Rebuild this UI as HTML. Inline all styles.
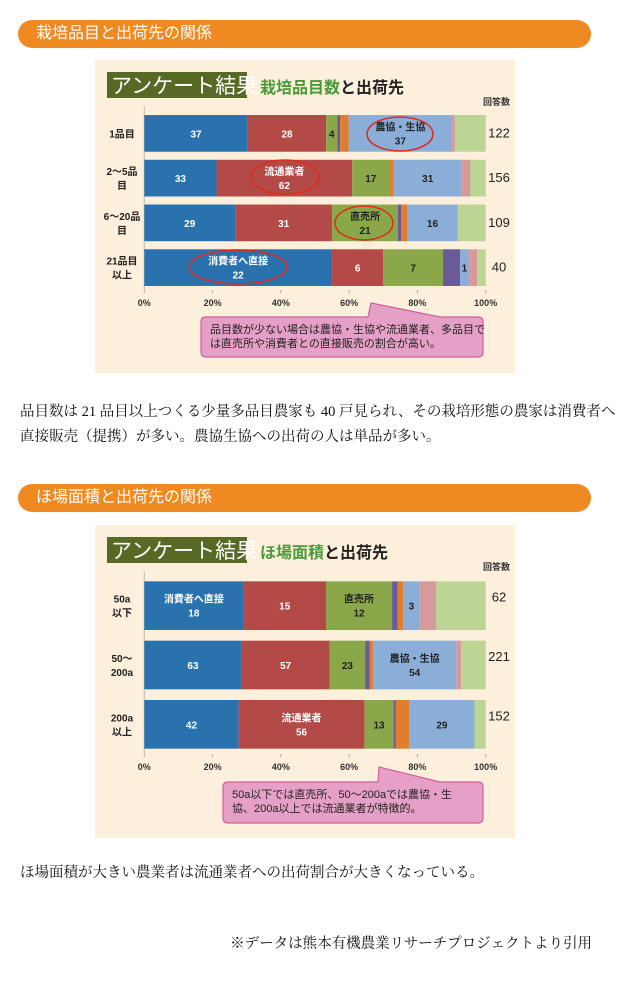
<!DOCTYPE html>
<html><head><meta charset="utf-8">
<style>
html,body{margin:0;padding:0;background:#fff;}
body{width:635px;height:1002px;position:relative;overflow:hidden;font-family:"Liberation Sans","Noto Sans CJK JP",sans-serif;}
.hdr{position:absolute;left:18px;width:573px;height:28px;background:#ef8a22;border-radius:14px;color:#fff;font-size:16px;line-height:28px;padding-left:18px;box-sizing:border-box;}
.txt{position:absolute;left:20px;font-family:"Liberation Serif","Noto Serif CJK JP",serif;font-size:14.5px;color:#111;line-height:25px;}
svg{position:absolute;left:0;top:0;}
</style></head><body>
<div class="hdr" style="top:20px">栽培品目と出荷先の関係</div>
<div class="hdr" style="top:484px">ほ場面積と出荷先の関係</div>
<div class="txt" style="top:400px;width:600px">品目数は 21 品目以上つくる少量多品目農家も 40 戸見られ、その栽培形態の農家は消費者へ直接販売（提携）が多い。農協生協への出荷の人は単品が多い。</div>
<div class="txt" style="top:861px">ほ場面積が大きい農業者は流通業者への出荷割合が大きくなっている。</div>
<div class="txt" style="top:932px;right:43px;left:auto">※データは熊本有機農業リサーチプロジェクトより引用</div>
<svg id="s" width="635" height="1002" xmlns="http://www.w3.org/2000/svg"></svg>
<script>
// Chart 1: crop item count vs shipping destination
const c1Rows=[["1品目"],["2～5品","目"],["6～20品","目"],["21品目","以上"]];
const c1Totals=[122,156,109,40];
const c1Blue=[37,33,29,22];
const c1Red=[28,62,31,6];
const c1Green=[4,17,21,7];
const c1Purple=[1,0,1,2];
const c1Orange=[3,2,2,0];
const c1LightBlue=[37,31,16,1];
const c1Pink=[1,4,0,1];
const c1LightGreen=[11,7,9,1];
const c1Show=[[1,1,1,0,0,1,0,0],[1,1,1,0,0,1,0,0],[1,1,1,0,0,1,0,0],[1,1,1,0,0,1,0,0]];
// Chart 2: field area vs shipping destination
const c2Rows=[["50a","以下"],["50～","200a"],["200a","以上"]];
const c2Totals=[62,221,152];
const c2Blue=[18,63,42];
const c2Red=[15,57,56];
const c2Green=[12,23,13];
const c2Purple=[1,3,1];
const c2Orange=[1,2,6];
const c2LightBlue=[3,54,29];
const c2Pink=[3,3,0];
const c2LightGreen=[9,16,5];
const c2Show=[[1,1,1,0,0,1,0,0],[1,1,1,0,0,1,0,0],[1,1,1,0,0,1,0,0]];
const tickLabels=["0%","20%","40%","60%","80%","100%"];
const colors=["#2a72ae","#b34a47","#8aa84a","#6a5a9a","#e07e2e","#8aaed8","#d69a9c","#bcd494"];
const textCol=["#fff","#fff","#222","#fff","#222","#222","#222","#222"];
const NS="http://www.w3.org/2000/svg";
const S=document.getElementById('s');
function mk(tag,attrs,parent,txt){const e=document.createElementNS(NS,tag);for(const k in attrs)e.setAttribute(k,attrs[k]);if(txt!==undefined)e.textContent=txt;(parent||S).appendChild(e);return e;}
function chart(cfg){
  const g=mk('g',{});
  
  
  const bg=mk('rect',{x:cfg.bx,y:cfg.by,width:420,height:313,fill:'#fcefdb'},g);
  
  
  const tb=mk('rect',{x:cfg.bx+12,y:cfg.by+12,width:140,height:26,fill:'#566a26'},g);
  
  
  const tt=mk('text',{x:cfg.bx+16,y:cfg.by+33,fill:'#fff','font-size':21},g,'アンケート結果');
  
  
  const st=mk('text',{x:cfg.bx+165,y:cfg.by+33,'font-size':16,'font-weight':'bold',fill:'#222'},g);
  
  
  mk('tspan',{fill:'#4a9a3a'},st,cfg.sub1);mk('tspan',{},st,cfg.sub2);
  const x0=cfg.bx+49.3,W=341.4;
  const xs=v=>x0+v*W;
  const n=cfg.rows.length;
  const yTop=cfg.by+cfg.plotTop,yBot=cfg.by+cfg.plotBot;
  const band=(yBot-yTop)/n;
  const y=i=>yTop+i*band;
  mk('line',{x1:x0,y1:yTop-5,x2:x0,y2:yBot,stroke:'#bbb'},g);
  const ca=mk('text',{x:cfg.bx+415,y:yTop-6,'text-anchor':'end','font-size':9,'font-weight':'bold',fill:'#333'},g,'回答数');
  
  
  tickLabels.forEach((t,k)=>{const xx=xs(k/5);mk('line',{x1:xx,y1:yBot,x2:xx,y2:yBot+3,stroke:'#aaa'},g);
    const tl=mk('text',{x:xx,y:yBot+16,'text-anchor':'middle','font-size':9,'font-weight':'bold',fill:'#333'},g,t);
    
    });
  for(let i=0;i<n;i++){
    const vals=cfg.series.map(s=>s[i]);const tot=vals.reduce((a,b)=>a+b,0);
    const by0=y(i)+band*0.09,bh=band*0.82;let acc=0;
    vals.forEach((v,j)=>{const xa=xs(acc/tot),xb=xs((acc+v)/tot);acc+=v;if(v<=0)return;
      const r=mk('rect',{x:xa,y:by0,width:xb-xa,height:bh,fill:colors[j]},g);
      
      
      if(cfg.show[i][j]){const nm=(cfg.names[i]&&cfg.names[i][j]);const cx=(xa+xb)/2,cy=by0+bh/2;
        if(nm){const l1=mk('text',{x:cx,y:cy-3,'text-anchor':'middle','font-size':10,'font-weight':'bold',fill:textCol[j]},g,nm);
          }
        const lv=mk('text',{x:cx,y:nm?cy+11:cy+4,'text-anchor':'middle','font-size':10,'font-weight':'bold',fill:textCol[j]},g,String(v));
        
        }
    });
    const rl=cfg.rows[i];
    rl.forEach((t,k)=>{const e=mk('text',{x:cfg.bx+27,y:y(i)+band/2+4+(k-(rl.length-1)/2)*14,'text-anchor':'middle','font-size':10,'font-weight':'bold',fill:'#222'},g,t);
      });
    const tv=mk('text',{x:cfg.bx+404,y:y(i)+band/2+(cfg.totOff||4),'text-anchor':'middle','font-size':13,fill:'#222'},g,String(cfg.totals[i]));
    
    
  }
  (cfg.ellipses||[]).forEach(e=>{const el=mk('ellipse',{cx:e[0],cy:e[1],rx:e[2],ry:e[3],fill:'none',stroke:'#e02a1a','stroke-width':1.5},g);
    });
  const c=cfg.callout;
  const cp=mk('path',{d:`M${c.x+5},${c.y} H${c.t1} L${c.tx},${c.ty} L${c.t2},${c.y} H${c.x+c.w-5} Q${c.x+c.w},${c.y} ${c.x+c.w},${c.y+5} V${c.y+c.h-5} Q${c.x+c.w},${c.y+c.h} ${c.x+c.w-5},${c.y+c.h} H${c.x+5} Q${c.x},${c.y+c.h} ${c.x},${c.y+c.h-5} V${c.y+5} Q${c.x},${c.y} ${c.x+5},${c.y}Z`,fill:'#e6a0c8',stroke:'#d0609a','stroke-width':1.2},g);
  
  
  c.lines.forEach((t,k)=>{const e=mk('text',{x:c.x+9,y:c.y+16+k*14,'font-size':11,fill:'#222'},g,t);
    });
}
chart({name:'chart-crop-items',bx:95,by:60,sub1:'栽培品目数',sub2:'と出荷先',rows:c1Rows,totals:c1Totals,
  series:[c1Blue,c1Red,c1Green,c1Purple,c1Orange,c1LightBlue,c1Pink,c1LightGreen],show:c1Show,
  names:[{5:'農協・生協'},{1:'流通業者'},{2:'直売所'},{0:'消費者へ直接'}],
  plotTop:51,plotBot:230,
  ellipses:[[400,134,33,17],[285,177,34,17],[364,223,29,17],[238,267,49,17]],
  callout:{x:201,y:317,w:282,h:40,t1:368,tx:371,ty:303,t2:440,lines:['品目数が少ない場合は農協・生協や流通業者、多品目で','は直売所や消費者との直接販売の割合が高い。']}});
chart({name:'chart-field-area',bx:95,by:525,sub1:'ほ場面積',sub2:'と出荷先',rows:c2Rows,totals:c2Totals,
  series:[c2Blue,c2Red,c2Green,c2Purple,c2Orange,c2LightBlue,c2Pink,c2LightGreen],show:c2Show,
  names:[{0:'消費者へ直接',2:'直売所'},{5:'農協・生協'},{1:'流通業者'}],
  plotTop:51,plotBot:229,totOff:-4,
  callout:{x:223,y:782,w:260,h:41,t1:378,tx:379,ty:767,t2:440,lines:['50a以下では直売所、50～200aでは農協・生','協、200a以上では流通業者が特徴的。']}});
</script>
</body></html>
